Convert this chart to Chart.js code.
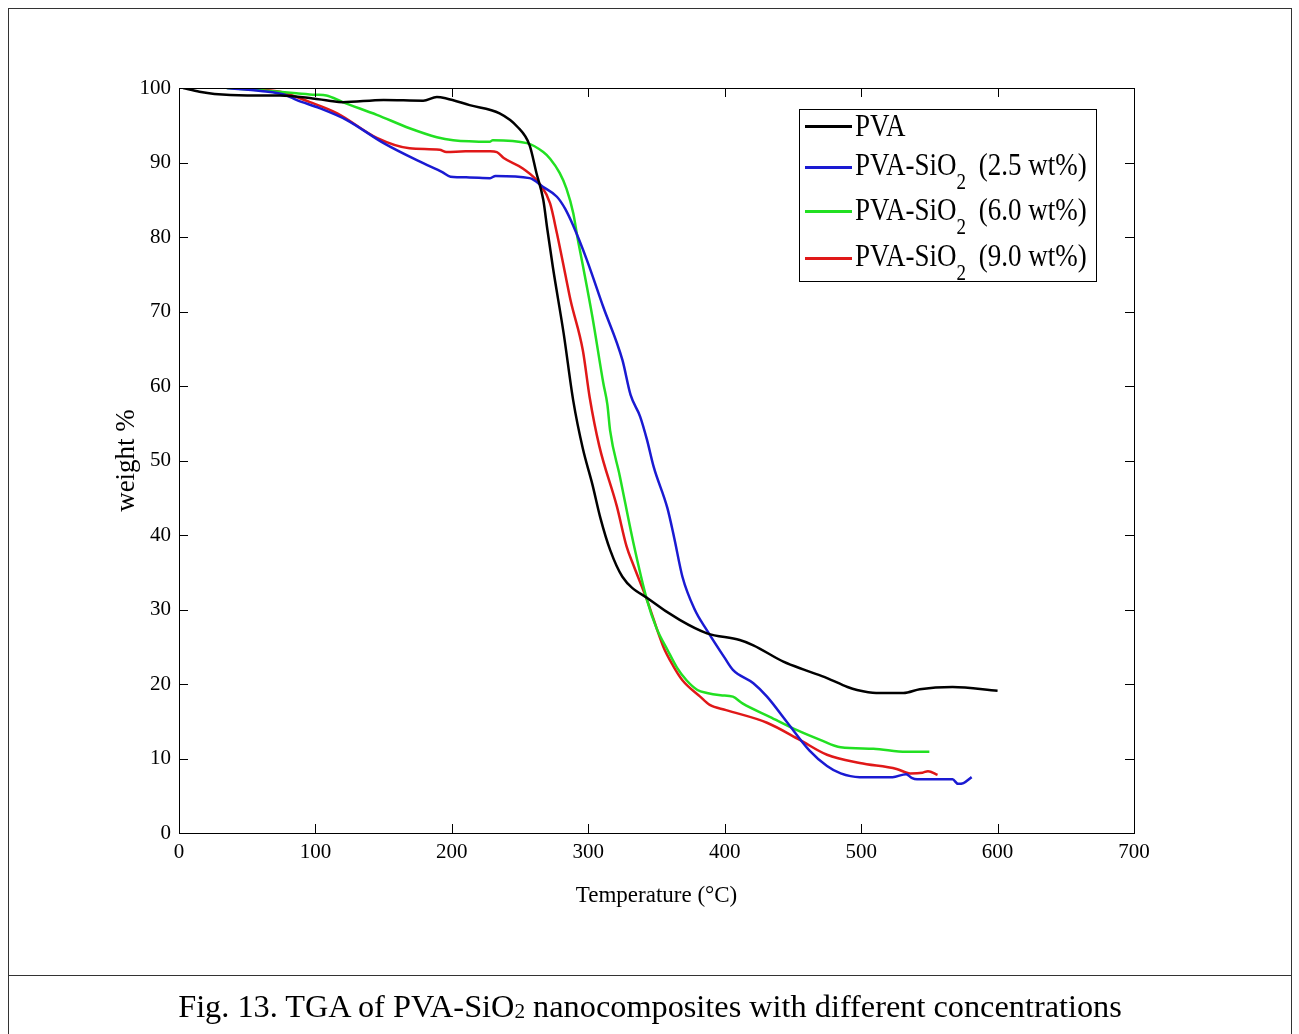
<!DOCTYPE html>
<html>
<head>
<meta charset="utf-8">
<script src="https://cdn.jsdelivr.net/npm/chart.js@4.4.1/dist/chart.umd.min.js"></script>
<style>
    html, body { margin: 0; padding: 0; background: #fff; }
    body {
        width: 1299px; height: 1034px; position: relative; overflow: hidden;
        font-family: "Liberation Serif", "Times New Roman", serif; color: #000;
    }
    #marco {
        position: absolute; left: 8px; top: 8px; width: 1284px; height: 1060px;
        border: 1px solid #333; box-sizing: border-box;
    }
    #separador { position: absolute; left: 8px; top: 975px; width: 1284px; height: 1px; background: #333; }
    #pie {
        position: absolute; left: 8px; width: 1284px; top: 990px; text-align: center;
        font-size: 32.3px; line-height: 32px; white-space: nowrap;
    }
    #pie .sub { font-size: 0.66em; vertical-align: -0.06em; }
    #lienzo { position: absolute; left: 0; top: 0; }
    #leyenda {
        position: absolute; left: 799px; top: 109px; width: 298px; height: 173px;
        border: 1px solid #000; box-sizing: border-box; background: #fff;
    }
    .muestra { position: absolute; left: 5px; width: 47px; height: 3px; }
    .texto {
        position: absolute; left: 55px; font-size: 27px; line-height: 27px; white-space: nowrap;
        transform-origin: 0 23px; transform: scaleY(1.2);
    }
    .texto .sub { font-size: 19px; vertical-align: -12px; margin-right: 6px; }
</style>
</head>
<body>
<div id="marco"></div>
<div id="separador"></div>
<canvas id="lienzo" width="1299" height="1034"></canvas>
<div id="leyenda"></div>
<div id="pie">Fig. 13. TGA of PVA-SiO<span class="sub">2</span> nanocomposites with different concentrations</div>

<script>
/* =========================================================
    DATOS
========================================================= */

const nombres = ["PVA", "PVA-SiO2 (2.5 wt%)", "PVA-SiO2 (6.0 wt%)", "PVA-SiO2 (9.0 wt%)"];
const colores = ["#000000", "#1a1ad2", "#22e022", "#e01818"];

const tempPVA = [3, 15, 26, 50, 74, 98, 110, 120, 150, 179, 189, 196, 213, 235, 248, 257, 262, 267, 270, 274,
    282, 289, 296, 303, 309, 316, 325, 345, 367, 387, 411, 421, 443, 460, 475, 490, 497, 511, 531, 543, 567, 600];
const pesoPVA = [100, 99.5, 99.2, 99.0, 99.0, 98.6, 98.3, 98.1, 98.4, 98.3, 98.8, 98.6, 97.7, 96.6, 94.8, 92.3, 88.6, 85, 81, 76,
    67, 58, 51.6, 46.8, 42.2, 38, 34.4, 31.3, 28.6, 26.8, 25.9, 25.2, 23.0, 21.8, 20.8, 19.6, 19.2, 18.8, 18.8, 19.3, 19.6, 19.1];

const temp25 = [35, 60, 79, 86, 103, 123, 150, 179, 193, 199, 213, 228, 232, 257, 267, 277, 283, 289, 299, 311,
    325, 331, 338, 343, 348, 358, 363, 369, 378, 387, 400, 406, 421, 431, 446, 462, 475, 485, 499, 523, 533,
    537, 541, 567, 571, 575, 581];
const peso25 = [100, 99.6, 99.0, 98.4, 97.3, 95.7, 92.6, 89.9, 88.7, 88.1, 88.0, 87.9, 88.2, 87.9, 86.7, 85.4, 83.8, 81.5, 76.9, 70.6,
    63.5, 58.8, 55.9, 52.8, 49.1, 43.6, 39.6, 34.4, 30, 27.2, 23.5, 21.9, 20.1, 18.3, 14.8, 11.1, 9.0, 8.0, 7.5, 7.5, 7.9,
    7.4, 7.2, 7.2, 6.6, 6.7, 7.5];

const temp60 = [35, 60, 86, 100, 108, 120, 145, 169, 189, 201, 228, 230, 255, 267, 272, 279, 284, 289, 292, 296,
    303, 311, 314, 316, 323, 333, 343, 350, 358, 365, 372, 380, 387, 397, 406, 413, 433, 453, 470, 485, 509, 533, 550];
const peso60 = [100, 99.7, 99.3, 99.1, 99.0, 98.1, 96.4, 94.6, 93.4, 93.0, 92.8, 93.0, 92.6, 91.4, 90.5, 88.6, 86.5, 83.2, 80, 76.2,
    69.3, 60.4, 57.5, 54, 48, 39, 31.3, 27.5, 24.6, 22.2, 20.5, 19.2, 18.8, 18.5, 18.3, 17.4, 15.6, 13.8, 12.5, 11.5, 11.3, 10.9, 10.9];

const temp90 = [35, 55, 74, 96, 116, 145, 169, 191, 196, 210, 228, 233, 238, 252, 265, 272, 277, 284, 287, 296,
    301, 308, 321, 328, 333, 343, 355, 362, 369, 382, 389, 401, 431, 455, 475, 499, 526, 536, 545, 549, 556];
const peso90 = [100.1, 99.8, 99.5, 98.1, 96.6, 93.3, 91.9, 91.7, 91.4, 91.5, 91.5, 91.4, 90.6, 89.2, 87, 84.5, 80.5, 74.2, 71.5, 64.8,
    58.5, 52, 43.8, 38.5, 36, 31.3, 25, 22.5, 20.5, 18.3, 17.2, 16.5, 14.8, 12.5, 10.5, 9.4, 8.6, 8.0, 8.1, 8.3, 7.8];

const ticksX = [0, 100, 200, 300, 400, 500, 600, 700];
const ticksY = [0, 10, 20, 30, 40, 50, 60, 70, 80, 90, 100];

/* =========================================================
    UTILIDADES
========================================================= */

// Une temperatura y peso en puntos {x, y}
const puntos = (t, w) => t.map((v, i) => ({ x: v, y: w[i] }));

// Caja de ejes con marcas hacia dentro (estilo MATLAB)
const marcoEjes = {
    id: "marcoEjes",
    afterDatasetsDraw(chart) {
        const { ctx, chartArea: a, scales: { x, y } } = chart;
        const largo = 9;
        ctx.save();
        ctx.strokeStyle = "#000";
        ctx.lineWidth = 1;
        ctx.strokeRect(Math.round(a.left) + 0.5, Math.round(a.top) + 0.5,
            Math.round(a.width), Math.round(a.height));
        ctx.beginPath();
        ticksX.forEach(v => {
            const px = Math.round(x.getPixelForValue(v)) + 0.5;
            ctx.moveTo(px, a.bottom); ctx.lineTo(px, a.bottom - largo);
            ctx.moveTo(px, a.top); ctx.lineTo(px, a.top + largo);
        });
        ticksY.forEach(v => {
            const py = Math.round(y.getPixelForValue(v)) + 0.5;
            ctx.moveTo(a.left, py); ctx.lineTo(a.left + largo, py);
            ctx.moveTo(a.right, py); ctx.lineTo(a.right - largo, py);
        });
        ctx.stroke();
        ctx.restore();
    }
};

/* =========================================================
    LEYENDA
========================================================= */

const filas = [
    { linea: 16, base: 27 },
    { linea: 57, base: 66 },
    { linea: 101, base: 111 },
    { linea: 148, base: 157 }
];

const leyenda = document.getElementById("leyenda");
nombres.forEach((n, i) => {
    const m = document.createElement("div");
    m.className = "muestra";
    m.style.top = (filas[i].linea - 1) + "px";
    m.style.background = colores[i];
    leyenda.appendChild(m);

    const t = document.createElement("div");
    t.className = "texto";
    t.style.top = (filas[i].base - 23) + "px";
    t.innerHTML = n.replace("SiO2", 'SiO<span class="sub">2</span>');
    leyenda.appendChild(t);
});

/* =========================================================
    GRAFICA
========================================================= */

Chart.defaults.font.family = '"Liberation Serif", "Times New Roman", serif';
Chart.defaults.color = "#000";

const series = [
    puntos(tempPVA, pesoPVA),
    puntos(temp25, peso25),
    puntos(temp60, peso60),
    puntos(temp90, peso90)
];

new Chart(document.getElementById("lienzo"), {
    type: "line",
    data: {
        datasets: series.map((d, i) => ({
            label: nombres[i],
            data: d,
            borderColor: colores[i],
            backgroundColor: colores[i],
            borderWidth: 2.5,
            pointRadius: 0,
            fill: false,
            cubicInterpolationMode: "monotone"
        }))
    },
    options: {
        responsive: false,
        animation: false,
        events: [],
        layout: { padding: { left: 107, right: 165, top: 88, bottom: 120 } },
        plugins: {
            legend: { display: false },
            tooltip: { enabled: false }
        },
        scales: {
            x: {
                type: "linear",
                min: 0,
                max: 700,
                afterBuildTicks: s => { s.ticks = ticksX.map(v => ({ value: v })); },
                afterFit: s => { s.height = 81; },
                grid: { display: false, drawTicks: false },
                border: { display: false },
                ticks: { font: { size: 21 }, padding: 7, maxRotation: 0 },
                title: {
                    display: true,
                    text: "Temperature (°C)",
                    font: { size: 23 },
                    padding: { top: 4, bottom: 4 }
                }
            },
            y: {
                min: 0,
                max: 100,
                afterBuildTicks: s => { s.ticks = ticksY.map(v => ({ value: v })); },
                afterFit: s => { s.width = 72; },
                grid: { display: false, drawTicks: false },
                border: { display: false },
                ticks: { font: { size: 21 }, padding: 8 },
                title: {
                    display: true,
                    text: "weight %",
                    font: { size: 27 },
                    padding: { top: 4, bottom: 4 }
                }
            }
        }
    },
    plugins: [marcoEjes]
});
</script>
</body>
</html>
